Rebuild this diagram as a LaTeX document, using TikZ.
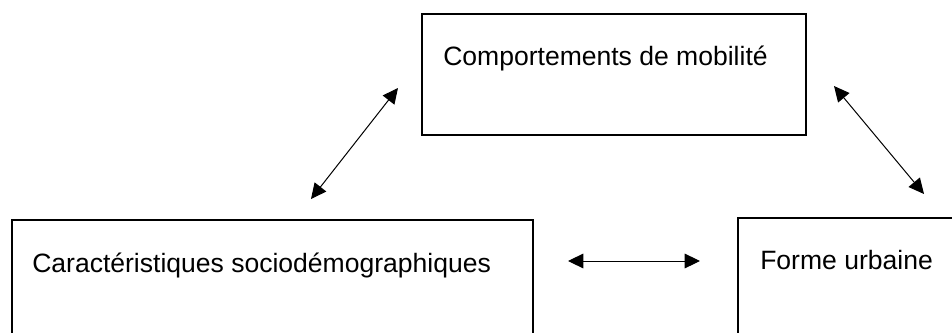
\documentclass[tikz,border=0pt]{standalone}
\usepackage{fontspec}
\setmainfont{Liberation Sans}
\usetikzlibrary{arrows.meta}

\tikzset{
  boite/.style={draw=black, line width=1pt, inner sep=0pt},
  texte/.style={anchor=base west, inner sep=0pt, font=\fontsize{19.9}{24}\selectfont},
  lien/.style={line width=0.75pt, {Triangle[length=11.5pt,width=11pt]}-{Triangle[length=11.5pt,width=11pt]}}
}

\begin{document}
\begin{tikzpicture}[x=0.75pt,y=0.75pt,yscale=-1,xscale=1]
\useasboundingbox (0,0) rectangle (952,332);

%Shape: Rectangle [mobilite]
\node (mobilite) [boite, minimum width=384*0.75pt, minimum height=121*0.75pt] at (614,74.5) {};

%Shape: Rectangle [socio]
\node (socio) [boite, minimum width=521*0.75pt, minimum height=140*0.75pt] at (272.5,290) {};

%Shape: Rectangle [forme]
\node (forme) [boite, minimum width=240*0.75pt, minimum height=140*0.75pt] at (858,288) {};

% Arrow ends
\coordinate (g1) at (311,199);
\coordinate (g2) at (398,88);
\coordinate (d1) at (834,86);
\coordinate (d2) at (924,194);
\coordinate (h1) at (568,261);
\coordinate (h2) at (700,261);

%Straight Lines
\draw [lien] (g1) -- (g2) ;
\draw [lien] (d1) -- (d2) ;
\draw [lien] (h1) -- (h2) ;

% Text Node
\node (tmobilite) [texte] at (443,65) {Comportements de mobilité};
% Text Node
\node (tsocio) [texte] at (32,272) {Caractéristiques sociodémographiques};
% Text Node
\node (tforme) [texte] at (760,269) {Forme urbaine};

\end{tikzpicture}
\end{document}
